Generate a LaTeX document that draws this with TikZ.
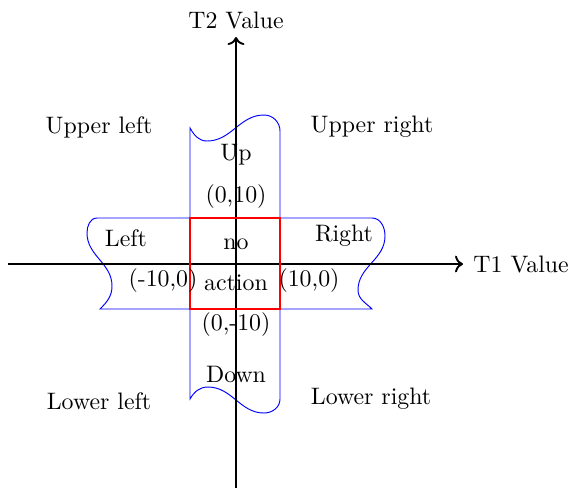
\documentclass[tikz,border=0pt]{standalone}
\usetikzlibrary{arrows.meta}
\begin{document}
\begin{tikzpicture}[x=0.4197pt,y=-0.4197pt,
  axis/.style={thick,->},
  tapeline/.style={blue,line width=0.4pt},
  sq/.style={red,line width=0.9pt},
  lbl/.style={inner sep=0pt,font=\normalsize}]
\useasboundingbox (0,0) rectangle (579,488);
% axes
\coordinate (xl) at (8,264);
\coordinate (xr) at (463,264);
\coordinate (yb) at (236,488);
\coordinate (yt) at (236,37);
% vertical tape
\draw[tapeline] (190,128) to[out=-60,in=180] (207,141)
  to[out=0,in=180] (264,115)
  to[out=0,in=90] (280,131)
  -- (280,399)
  to[out=-90,in=0] (264,413)
  to[out=180,in=0] (208,387)
  to[out=180,in=60] (190,399) -- cycle;
% horizontal tape
\draw[tapeline] (97,218) to[out=180,in=90] (87,233)
  to[out=-90,in=90] (112,286)
  to[out=-90,in=45] (100,309)
  -- (372,309)
  to[out=135,in=-90] (358,290)
  to[out=90,in=-90] (385,236)
  to[out=90,in=0] (372,218) -- cycle;
\draw[axis] (xl) -- (xr);
\draw[axis] (yb) -- (yt);
% red square
\draw[sq] (190,218) rectangle (280,309);
% labels
\node[lbl] (t2) at (236,20) {T2 Value};
\node[lbl,anchor=west] (t1) at (473,264) {T1 Value};
\node[lbl] (ul) at (99,127) {Upper left};
\node[lbl] (ur) at (372,127) {Upper right};
\node[lbl] (ll) at (99,401) {Lower left};
\node[lbl] (lr) at (371,399) {Lower right};
\node[lbl] (up) at (236,155) {Up};
\node[lbl] (p010) at (236,197) {(0,10)};
\node[lbl] (left) at (126,238) {Left};
\node[lbl] (right) at (344,236) {Right};
\node[lbl] (no) at (236,244) {no};
\node[lbl] (action) at (236,283) {action};
\node[lbl] (m100) at (163,281) {(-10,0)};
\node[lbl] (p100) at (309,281) {(10,0)};
\node[lbl] (p0m10) at (236,325) {(0,-10)};
\node[lbl] (down) at (236,374) {Down};
\end{tikzpicture}
\end{document}
